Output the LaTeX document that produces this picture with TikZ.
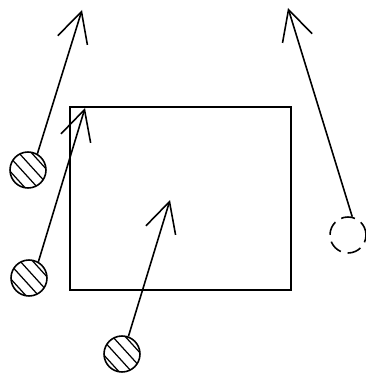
\documentclass[tikz,border=0pt]{standalone}
\usetikzlibrary{arrows.meta}
\begin{document}
\begin{tikzpicture}[x=0.02cm, y=-0.02cm, line width=0.9pt,
    >={Straight Barb[length=0.6cm, width=0.62cm]},
    player/.style={circle, draw, minimum size=0.72cm, inner sep=0pt},
    hatched/.style={player, path picture={
        \foreach \d in {-0.2,-0.067,0.067,0.2}
          \draw[line width=0.7pt] ([shift={(\d cm,\d cm)}]path picture bounding box.center)
            ++(-0.5cm,0.55cm) -- ++(1cm,-1.1cm);}},
    ghost/.style={player, dash pattern=on 8pt off 4pt}]
    \useasboundingbox (0,0) rectangle (365,375);

    % the box
    \draw[line width=0.7pt] (70,107) rectangle (291,290);

    % players
    \node[hatched] (p1) at (28,170) {};
    \node[hatched] (p2) at (29,278) {};
    \node[hatched] (p3) at (122,354) {};
    \node[ghost] (p4) at (348,235) {};

    % where they run
    \coordinate (t1) at (82,10);
    \coordinate (t2) at (85,108);
    \coordinate (t3) at (170,200);
    \coordinate (t4) at (288,8);

    \draw[->] (p1.60) -- (t1);
    \draw[->] (p2.60) -- (t2);
    \draw[->] (p3.70) -- (t3);
    \draw[->] (p4.77) -- (t4);
\end{tikzpicture}
\end{document}
